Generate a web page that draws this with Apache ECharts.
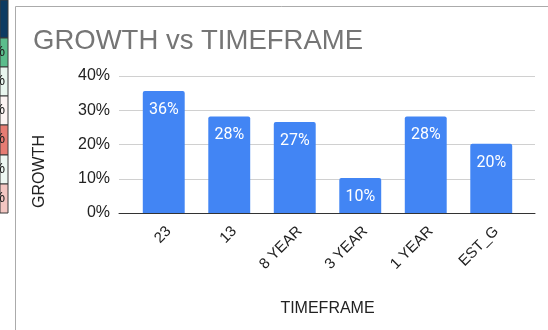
<!DOCTYPE html>
<html>
<head>
<meta charset="utf-8">
<script src="https://cdn.jsdelivr.net/npm/echarts@6/dist/echarts.min.js"></script>
<style>
  html, body { margin: 0; padding: 0; background: #fff; }
  #chart { width: 548px; height: 330px; }
</style>
</head>
<body>
<div id="chart"></div>
<script>
// Growth per timeframe
const categories = ['23', '13', '8 YEAR', '3 YEAR', '1 YEAR', 'EST_G'];
const growth = [0.356, 0.282, 0.266, 0.102, 0.282, 0.202];

// Value axis range and step (fractions, shown as percent)
const yMin = 0;
const yMax = 0.4;
const yStep = 0.1;

// Neighbouring sheet cells visible at the left edge
const cellFills = ['#0d3b62', '#5bbd8c', '#e9f6ef', '#fcf4f3', '#e67c73', '#eef8f3', '#f3c6c2'];
const cellText = ['', '%', '%', '%', '%', '%', '%'];

const pct = v => Math.round(v * 100) + '%';

const cellEdges = [0, 38, 67, 96, 125, 155, 184, 213];
const graphics = [];
cellFills.forEach((fill, i) => {
  const y0 = cellEdges[i], y1 = cellEdges[i + 1];
  graphics.push({
    type: 'rect', silent: true, z: 1,
    shape: { x: 0, y: y0, width: 8, height: y1 - y0 },
    style: { fill: fill, stroke: '#3a3a3a', lineWidth: 1 }
  });
  if (cellText[i]) {
    graphics.push({
      type: 'text', silent: true, z: 2,
      style: {
        text: cellText[i], x: 5, y: (y0 + y1) / 2 - 1,
        textAlign: 'right', textVerticalAlign: 'middle',
        fontSize: 15, fontFamily: 'Arial, Liberation Sans', fill: '#222'
      }
    });
  }
});
// chart frame
graphics.push({
  type: 'polyline', silent: true, z: 1,
  shape: { points: [[15.5, 330], [15.5, 6.5], [548, 6.5]] },
  style: { stroke: '#ababab', lineWidth: 1, fill: null }
});

const chart = echarts.init(document.getElementById('chart'), null, { renderer: 'canvas' });

const hiddenValueAxis = (gi) => ({
  type: 'value', gridIndex: gi, min: yMin, max: yMax, interval: yStep,
  show: false
});

chart.setOption({
  animation: false,
  backgroundColor: '#ffffff',
  textStyle: { fontFamily: 'Arial, Liberation Sans' },
  title: {
    text: 'GROWTH vs TIMEFRAME',
    left: 28, top: 22,
    textStyle: { fontSize: 27.5, fontWeight: 'normal', color: '#757575', fontFamily: 'Arial, Liberation Sans' }
  },
  graphic: graphics,
  grid: [
    // gridlines, baseline and value labels
    { left: 119, right: 13, top: 76, bottom: 117 },
    // bars
    { left: 131, right: 24, top: 76, bottom: 117 },
    // category labels
    { left: 136, right: 19, top: 76, bottom: 117 }
  ],
  xAxis: [
    {
      type: 'value', gridIndex: 0, min: 0, max: 1,
      axisLine: { show: true, lineStyle: { color: '#333', width: 1 } },
      axisTick: { show: false }, axisLabel: { show: false }, splitLine: { show: false }
    },
    {
      type: 'category', gridIndex: 1, data: categories,
      axisLine: { show: false }, axisTick: { show: false }, axisLabel: { show: false },
      name: 'TIMEFRAME', nameLocation: 'middle', nameGap: 88,
      nameTextStyle: { fontSize: 16, color: '#222', fontFamily: 'Arial, Liberation Sans' }
    },
    {
      type: 'category', gridIndex: 2, data: categories,
      axisLine: { show: false }, axisTick: { show: false },
      axisLabel: {
        rotate: 45, margin: 16, fontSize: 15, color: '#222', interval: 0,
        fontFamily: 'Arial, Liberation Sans'
      }
    }
  ],
  yAxis: [
    {
      type: 'value', gridIndex: 0, min: yMin, max: yMax, interval: yStep,
      axisLine: { show: false }, axisTick: { show: false },
      axisLabel: { formatter: pct, fontSize: 16, color: '#222', margin: 9, fontFamily: 'Arial, Liberation Sans' },
      splitLine: { lineStyle: { color: '#d0d0d0', width: 1 } },
      name: 'GROWTH', nameLocation: 'middle', nameGap: 71, nameRotate: 90,
      nameTextStyle: { fontSize: 16, color: '#222', fontFamily: 'Arial, Liberation Sans', padding: [0, 54, 0, 0] }
    },
    hiddenValueAxis(1),
    hiddenValueAxis(2)
  ],
  series: [
    {
      type: 'bar', xAxisIndex: 1, yAxisIndex: 1,
      data: growth,
      barWidth: '64%',
      itemStyle: { color: '#4285f4', borderRadius: [2, 2, 0, 0] },
      label: {
        show: true, position: 'insideTop', distance: 11,
        formatter: p => pct(p.value),
        color: '#ffffff', fontSize: 16, fontFamily: 'Roboto'
      }
    }
  ]
});
</script>
</body>
</html>
